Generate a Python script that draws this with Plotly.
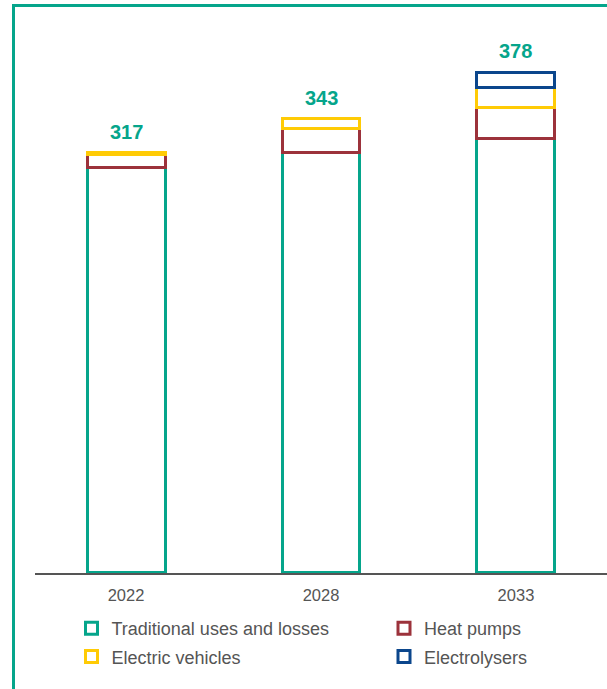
import plotly.graph_objects as go

years = ["2022", "2028", "2033"]
traditional = [306, 317, 328]
heat_pumps = [10, 18.4, 23.2]
electric_vehicles = [1, 7.6, 15.6]
electrolysers = [None, None, 10.9]
totals = [317, 343, 378]

# (name, values, colour, legend, legend group)
series = [
    ("Traditional uses and losses", traditional, "#05A58B", "legend", "a"),
    ("Heat pumps", heat_pumps, "#9C323B", "legend2", "b"),
    ("Electric vehicles", electric_vehicles, "#FFCB05", "legend", "c"),
    ("Electrolysers", electrolysers, "#0B468C", "legend2", "d"),
]

FONT = "Liberation Sans, Arial, sans-serif"
GREEN = "#05A58B"
GREY = "#555555"

fig = go.Figure()
for name, vals, col, leg, grp in series:
    fig.add_trace(go.Bar(
        x=years, y=vals, name=name, width=0.4, legend=leg, legendgroup=grp,
        marker=dict(color="rgba(255,255,255,0)", line=dict(color=col, width=3)),
        hoverinfo="skip",
    ))

# category axes place annotations by category index
for i, tot in enumerate(totals):
    fig.add_annotation(x=i, y=tot, xref="x", yref="y", text=f"<b>{tot}</b>",
                       showarrow=False, yanchor="bottom", yshift=8,
                       font=dict(family=FONT, size=20, color=GREEN))

W, H = 607, 689
ml, mr, mt, mb = 35, 0, 20, 116
pw, ph = W - ml - mr, H - mt - mb

def px_x(px):
    return (px - ml) / pw

def px_y(py):
    return (H - mb - py) / ph

fx = px_x(13.5)
fy = px_y(5.5)
fig.add_shape(type="path", xref="paper", yref="paper",
              path=f"M {fx},{px_y(720)} L {fx},{fy} L {px_x(620)},{fy}",
              line=dict(color=GREEN, width=3))

leg_common = dict(orientation="v", yref="container", xanchor="left", yanchor="top",
                  font=dict(family=FONT, size=18, color=GREY),
                  tracegroupgap=2, bgcolor="rgba(0,0,0,0)", borderwidth=0)

fig.update_layout(
    width=W, height=H,
    margin=dict(l=ml, r=mr, t=mt, b=mb, autoexpand=False),
    barmode="stack",
    paper_bgcolor="white", plot_bgcolor="white",
    font=dict(family=FONT, color=GREY),
    showlegend=True,
    legend=dict(x=px_x(71.5), y=1 - 610 / H, **leg_common),
    legend2=dict(x=px_x(384), y=1 - 610 / H, **leg_common),
    xaxis=dict(type="category", range=[-0.467, 2.467], showline=True,
               linecolor=GREY, linewidth=1.5, showgrid=False, ticks="",
               tickfont=dict(family=FONT, size=16.5, color=GREY),
               ticklabelstandoff=6, fixedrange=True),
    yaxis=dict(range=[-0.75, 417.5], visible=False, showgrid=False, fixedrange=True),
)

fig.write_html("out.html")
